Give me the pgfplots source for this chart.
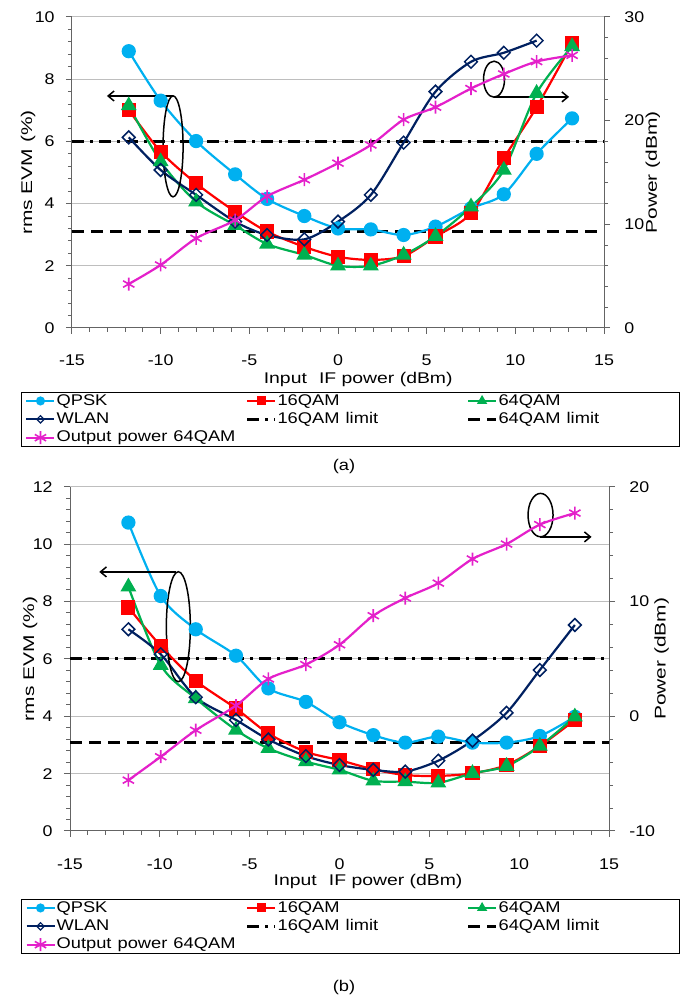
\documentclass[border=0pt]{standalone}
\usepackage{fontspec}
\setmainfont{Liberation Sans}
\usepackage{graphicx}
\usepackage{pgfplots}
\pgfplotsset{compat=1.18}
\usetikzlibrary{arrows.meta}
\definecolor{qpsk}{RGB}{0,176,240}
\definecolor{qamA}{RGB}{255,0,0}
\definecolor{qamB}{RGB}{0,176,80}
\definecolor{wlan}{RGB}{0,32,96}
\definecolor{outp}{RGB}{228,32,202}
\definecolor{gridc}{RGB}{190,190,190}
\definecolor{axc}{RGB}{100,100,100}
\newcommand{\fs}{\fontsize{15.5}{18}\selectfont}
\newcommand{\stk}[1]{\scalebox{1.15}[1]{#1}}
\newcommand{\slg}[1]{\scalebox{1.18}[1]{#1}}
\newcommand{\sxl}[1]{\scalebox{1.25}[1]{#1}}
\newcommand{\syl}[1]{\scalebox{1.35}[1]{#1}}

\pgfplotsset{
  base/.style={scale only axis, xmin=-15, xmax=15, tick align=outside,
    major tick length=6pt, minor tick length=4pt,
    every tick/.style={axc, line width=1pt},
    axis line style={axc, line width=1pt},
    tick label style={font=\fs},
    label style={font=\fs},
    /pgf/number format/assume math mode=true,
    yticklabel={\stk{\pgfmathprintnumber{\tick}}},
    clip=false,
  },
  lft/.style={base, axis x line*=bottom, axis y line*=left, xtick distance=5,
    minor x tick num=4, minor y tick num=4, ymajorgrids,
    major grid style={gridc, line width=1pt},
    yticklabel shift=6pt},
  rgt/.style={base, hide x axis, xtick=\empty, xticklabels={}, axis y line*=right, minor y tick num=4,
    yticklabel shift=9pt},
  sQ/.style={smooth, color=qpsk, line width=2.2pt, mark=*, mark size=6pt, mark options={solid, fill=qpsk, draw=qpsk}},
  sA/.style={smooth, color=qamA, line width=2.2pt, mark=square*, mark size=6pt, mark options={solid, fill=qamA, draw=qamA}},
  sB/.style={smooth, color=qamB, line width=2.2pt, mark=triangle*, mark size=7pt, mark options={solid, fill=qamB, draw=qamB}},
  sW/.style={smooth, color=wlan, line width=2.2pt, mark=square, mark size=4.5pt, mark options={solid, rotate=45, fill=white, draw=wlan, line width=1.5pt}},
  sO/.style={smooth, color=outp, line width=2.2pt, mark=asterisk, mark size=6.5pt, mark options={solid, line width=1.6pt}},
  lim1/.style={black, line width=3pt, dash pattern=on 12pt off 6pt on 3pt off 6pt},
  lim2/.style={black, line width=3pt, dash pattern=on 12pt off 7pt},
  legend image code/.code={\draw[mark repeat=2,mark phase=2,#1] plot coordinates {(0pt,0pt) (14pt,0pt) (28pt,0pt)};},
  leg/.style={legend columns=3, legend cell align=left,
    legend style={font=\fs, draw=black, line width=0.8pt, fill=white, anchor=north west,
      inner xsep=4pt, inner ysep=1pt, row sep=3pt,
      nodes={inner sep=1pt, text width=176pt, text depth=0.15em},
      /tikz/every even column/.append style={column sep=12pt}}},
}

% panel (a) data
\pgfplotstableread{
x qpsk qamA qamB
-11.8 8.90 7.01 7.15
-10.0 7.31 5.67 5.35
-8.0  6.01 4.65 4.06
-5.8  4.94 3.74 3.30
-4.0  4.15 3.10 2.70
-1.9  3.60 2.61 2.35
0.0   3.20 2.29 2.00
1.85  3.17 2.19 2.00
3.7   2.99 2.31 2.35
5.5   3.26 2.94 2.95
7.5   3.85 3.69 3.90
9.35  4.30 5.46 5.08
11.2  5.60 7.10 7.55
13.2  6.74 9.15 9.05
}\dataA
\pgfplotstableread{
x wlan
-11.8 6.13
-10.0 5.08
-8.0  4.28
-5.8  3.42
-4.0  2.99
-1.9  2.85
0.0   3.42
1.85  4.28
3.7   5.96
5.5   7.60
7.5   8.56
9.35  8.85
11.2  9.24
}\wlanA
\pgfplotstableread{
x pow
-11.8 4.24
-10.0 6.08
-8.0  8.65
-5.8  10.4
-4.0  12.7
-1.9  14.3
0.0   15.9
1.85  17.65
3.7   20.1
5.5   21.3
7.5   23.1
9.35  24.5
11.2  25.7
13.2  26.3
}\powA
% panel (b) data
\pgfplotstableread{
x qpsk qamA qamB wlan
-11.75 10.75 7.79 8.51 7.03
-9.95  8.19 6.45 5.78 6.16
-8.0   7.03 5.24 4.62 4.66
-5.76  6.11 4.27 3.52 3.87
-3.96  4.97 3.40 2.88 3.19
-1.87  4.50 2.76 2.42 2.61
0.0    3.79 2.47 2.13 2.30
1.88   3.34 2.15 1.75 2.13
3.66   3.08 1.95 1.72 2.07
5.5    3.29 1.92 1.68 2.45
7.4    3.08 2.01 2.01 3.15
9.3    3.08 2.30 2.26 4.12
11.15  3.31 2.96 2.96 5.61
13.1   3.98 3.87 3.98 7.18
}\dataB
\pgfplotstableread{
x pow
-11.75 -5.57
-9.95  -3.53
-8.0   -1.22
-5.76  0.93
-3.96  3.25
-1.87  4.50
0.0    6.23
1.88   8.76
3.66   10.3
5.5    11.6
7.4    13.7
9.3    15.0
11.15  16.7
13.1   17.7
}\powB

\begin{document}
\fs
\begin{tikzpicture}
\useasboundingbox (0,0) rectangle (688pt,996pt);

% ================= panel (a)
\begin{axis}[lft, at={(72pt,668pt)}, anchor=south west, width=532pt, height=311pt,
  ymin=0, ymax=10, ytick distance=2,
  xticklabel={\raisebox{-15pt}[11pt][0pt]{\stk{\pgfmathprintnumber{\tick}}}},
  xlabel={\sxl{Input\hspace{0.35em} IF power (dBm)}}, ylabel={\syl{rms EVM (\%)}},
  xlabel style={at={(axis description cs:0.538,-0.167)}, anchor=center},
  ylabel style={at={(axis description cs:-0.0827,0.5)}, anchor=center},
  ]
  \addplot[lim1, forget plot] coordinates {(-15,6) (15,6)};
  \addplot[lim2, forget plot] coordinates {(-15,3.1) (15,3.1)};
  \addplot[sQ] table[x=x,y=qpsk] {\dataA};
  \addplot[sA] table[x=x,y=qamA] {\dataA};
  \addplot[sB] table[x=x,y=qamB] {\dataA};
  \addplot[sW] table[x=x,y=wlan] {\wlanA};
  \draw[black, line width=1.5pt] (axis cs:-9.30,5.84) ellipse [x radius=10pt, y radius=50.5pt];
  \draw[black, line width=1.5pt, -{Straight Barb[length=6pt,width=10pt]}] (axis cs:-9.30,7.46) -- (axis cs:-13.03,7.46);
  \draw[black, line width=1.5pt] (axis cs:8.80,8.0) ellipse [x radius=10.5pt, y radius=18pt];
  \draw[black, line width=1.5pt, -{Straight Barb[length=6pt,width=10pt]}] (axis cs:8.80,7.43) -- (axis cs:13.03,7.43);
\end{axis}
\begin{axis}[rgt, leg, at={(72pt,668pt)}, anchor=south west, width=532pt, height=311pt,
  ymin=0, ymax=30, ytick distance=10, ylabel={\syl{Power (dBm)}},
  ylabel style={at={(axis description cs:1.092,0.5)}, anchor=center, rotate=0},
  legend style={at={(axis description cs:-0.0959,-0.2058)}},
  ]
  \addlegendimage{qpsk, line width=2pt, mark=*, mark size=3.5pt, mark options={solid, fill=qpsk}}
  \addlegendentry{\slg{QPSK}}
  \addlegendimage{qamA, line width=2pt, mark=square*, mark size=3.5pt, mark options={solid, fill=qamA}}
  \addlegendentry{\slg{16QAM}}
  \addlegendimage{qamB, line width=2pt, mark=triangle*, mark size=4pt, mark options={solid, fill=qamB}}
  \addlegendentry{\slg{64QAM}}
  \addlegendimage{wlan, line width=2pt, mark=square, mark size=2.6pt, mark options={solid, rotate=45, fill=white, line width=1.2pt}}
  \addlegendentry{\slg{WLAN}}
  \addlegendimage{lim1}
  \addlegendentry{\slg{16QAM limit}}
  \addlegendimage{lim2}
  \addlegendentry{\slg{64QAM limit}}
  \addplot[sO] table[x=x,y=pow] {\powA};
  \addlegendentry{\slg{Output power 64QAM}}
\end{axis}
\node[font=\fs] at (344pt,530pt) {\slg{(a)}};

% ================= panel (b)
\begin{axis}[lft, at={(70pt,165pt)}, anchor=south west, width=539pt, height=344.3pt,
  ymin=0, ymax=12, ytick distance=2,
  xticklabel={\raisebox{-16pt}[11pt][0pt]{\stk{\pgfmathprintnumber{\tick}}}},
  xlabel={\sxl{Input\hspace{0.35em} IF power (dBm)}}, ylabel={\syl{rms EVM (\%)}},
  xlabel style={at={(axis description cs:0.553,-0.148)}, anchor=center},
  ylabel style={at={(axis description cs:-0.0742,0.5)}, anchor=center},
  ]
  \addplot[lim1, forget plot] coordinates {(-15,6) (15,6)};
  \addplot[lim2, forget plot] coordinates {(-15,3.1) (15,3.1)};
  \addplot[sQ] table[x=x,y=qpsk] {\dataB};
  \addplot[sA] table[x=x,y=qamA] {\dataB};
  \addplot[sB] table[x=x,y=qamB] {\dataB};
  \addplot[sW] table[x=x,y=wlan] {\dataB};
  \draw[black, line width=1.5pt] (axis cs:-8.97,7.12) ellipse [x radius=12pt, y radius=55pt];
  \draw[black, line width=1.5pt, -{Straight Barb[length=6pt,width=10pt]}] (axis cs:-9.10,9.03) -- (axis cs:-13.37,9.03);
  \draw[black, line width=1.5pt] (axis cs:11.19,11.01) ellipse [x radius=12.5pt, y radius=21.7pt];
  \draw[black, line width=1.5pt, -{Straight Barb[length=6pt,width=10pt]}] (axis cs:11.15,10.25) -- (axis cs:14.03,10.25);
\end{axis}
\begin{axis}[rgt, leg, at={(70pt,165pt)}, anchor=south west, width=539pt, height=344.3pt,
  ymin=-10, ymax=20, ytick distance=10, ylabel={\syl{Power (dBm)}},
  ylabel style={at={(axis description cs:1.0978,0.5)}, anchor=center, rotate=0},
  legend style={at={(axis description cs:-0.0909,-0.1975)}},
  ]
  \addlegendimage{qpsk, line width=2pt, mark=*, mark size=3.5pt, mark options={solid, fill=qpsk}}
  \addlegendentry{\slg{QPSK}}
  \addlegendimage{qamA, line width=2pt, mark=square*, mark size=3.5pt, mark options={solid, fill=qamA}}
  \addlegendentry{\slg{16QAM}}
  \addlegendimage{qamB, line width=2pt, mark=triangle*, mark size=4pt, mark options={solid, fill=qamB}}
  \addlegendentry{\slg{64QAM}}
  \addlegendimage{wlan, line width=2pt, mark=square, mark size=2.6pt, mark options={solid, rotate=45, fill=white, line width=1.2pt}}
  \addlegendentry{\slg{WLAN}}
  \addlegendimage{lim1}
  \addlegendentry{\slg{16QAM limit}}
  \addlegendimage{lim2}
  \addlegendentry{\slg{64QAM limit}}
  \addplot[sO] table[x=x,y=pow] {\powB};
  \addlegendentry{\slg{Output power 64QAM}}
\end{axis}
\node[font=\fs] at (344pt,9pt) {\slg{(b)}};
\end{tikzpicture}
\end{document}
